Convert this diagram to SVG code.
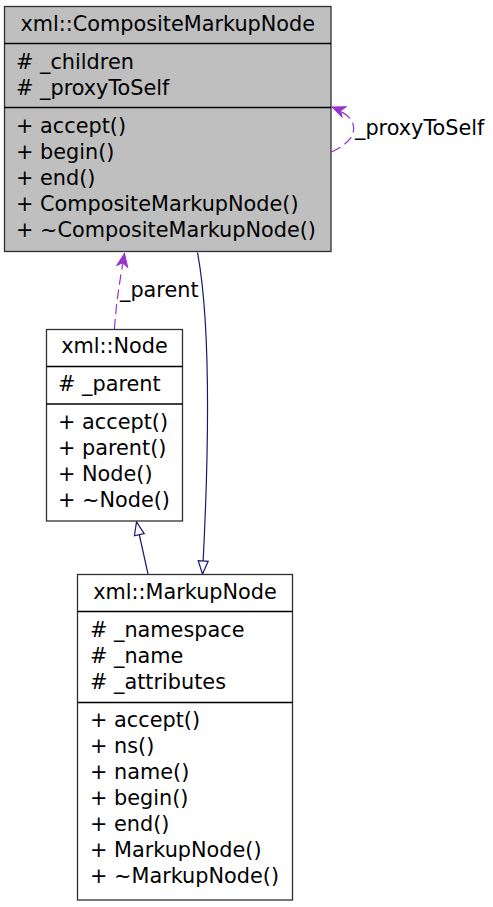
<svg xmlns="http://www.w3.org/2000/svg" width="493" height="907" viewBox="0 0 493 907">
<style>
text{font-family:"DejaVu Sans","Liberation Sans",sans-serif;font-size:20.8px;fill:#000}
.c{text-anchor:middle}
.box{stroke:#303030;stroke-width:1.3}
.sep{stroke:#000;stroke-width:1.3}
.inh{fill:none;stroke:#191970;stroke-width:1.2}
.use{fill:none;stroke:#9a32cd;stroke-width:1.2;stroke-dasharray:10,5}
</style>
<defs>
<marker id="tri" markerUnits="userSpaceOnUse" markerWidth="16" markerHeight="14" viewBox="-1 -7 16 14" refX="13" refY="0" orient="auto">
<path d="M0,-5 L13,0 L0,5 Z" fill="#fff" stroke="#191970" stroke-width="1.2"/>
</marker>
<marker id="vee" markerUnits="userSpaceOnUse" markerWidth="16" markerHeight="14" viewBox="-1 -7 16 14" refX="13" refY="0" orient="auto">
<path d="M0,-5.5 L13,0 L0,5.5 L3.5,0 Z" fill="#9a32cd" stroke="#9a32cd" stroke-width="1" stroke-linejoin="miter"/>
</marker>
</defs>
<g id="connectors">
<path class="inh" d="M148,574 L136.5,522" marker-end="url(#tri)"/>
<path class="inh" d="M197.5,252.5 C212,330 208,470 202.5,574" marker-end="url(#tri)"/>
<path class="use" d="M114.5,329 C116,305 119,285 124.5,253.5" marker-end="url(#vee)"/>
<path class="use" d="M331.5,152 C345,146 357,136 353,124 C351,117 342,111 332,107" marker-end="url(#vee)"/>
<text x="120" y="297">_parent</text>
<text x="355" y="135">_proxyToSelf</text>
</g>
<g id="CompositeMarkupNode">
<rect class="box" x="4.5" y="6.5" width="326.5" height="245" fill="#bfbfbf"/>
<line class="sep" x1="4.5" y1="43.5" x2="331" y2="43.5"/>
<line class="sep" x1="4.5" y1="107.5" x2="331" y2="107.5"/>
<text class="c" x="167.75" y="31">xml::CompositeMarkupNode</text>
<text x="16" y="69"># _children</text>
<text x="16" y="95"># _proxyToSelf</text>
<text x="16" y="133">+ accept()</text>
<text x="16" y="159">+ begin()</text>
<text x="16" y="185">+ end()</text>
<text x="16" y="211">+ CompositeMarkupNode()</text>
<text x="16" y="237">+ ~CompositeMarkupNode()</text>
</g>
<g id="Node">
<rect class="box" x="46.5" y="329.5" width="136" height="191.5" fill="#fff"/>
<line class="sep" x1="46.5" y1="366.5" x2="182.5" y2="366.5"/>
<line class="sep" x1="46.5" y1="404" x2="182.5" y2="404"/>
<text class="c" x="114.5" y="353">xml::Node</text>
<text x="58" y="391"># _parent</text>
<text x="58" y="429">+ accept()</text>
<text x="58" y="455">+ parent()</text>
<text x="58" y="481">+ Node()</text>
<text x="58" y="507">+ ~Node()</text>
</g>
<g id="MarkupNode">
<rect class="box" x="77.5" y="574.5" width="215" height="325.5" fill="#fff"/>
<line class="sep" x1="77.5" y1="611.5" x2="292.5" y2="611.5"/>
<line class="sep" x1="77.5" y1="702.5" x2="292.5" y2="702.5"/>
<text class="c" x="185" y="599">xml::MarkupNode</text>
<text x="90" y="637"># _namespace</text>
<text x="90" y="663"># _name</text>
<text x="90" y="689"># _attributes</text>
<text x="90" y="727">+ accept()</text>
<text x="90" y="753">+ ns()</text>
<text x="90" y="779">+ name()</text>
<text x="90" y="805">+ begin()</text>
<text x="90" y="831">+ end()</text>
<text x="90" y="857">+ MarkupNode()</text>
<text x="90" y="883">+ ~MarkupNode()</text>
</g>
</svg>
